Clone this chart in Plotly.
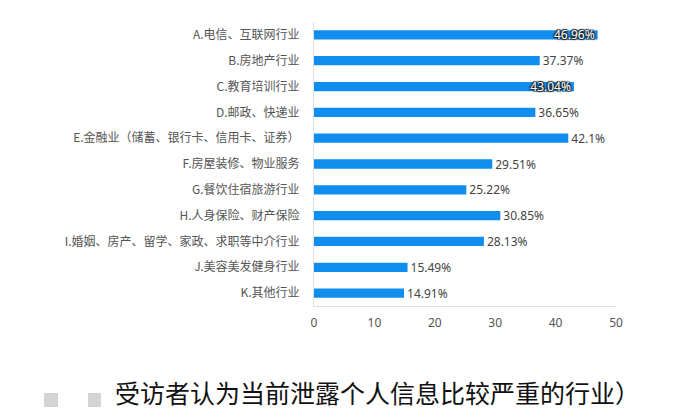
import plotly.graph_objects as go

categories = [
    "A.电信、互联网行业",
    "B.房地产行业",
    "C.教育培训行业",
    "D.邮政、快递业",
    "E.金融业（储蓄、银行卡、信用卡、证券）",
    "F.房屋装修、物业服务",
    "G.餐饮住宿旅游行业",
    "H.人身保险、财产保险",
    "I.婚姻、房产、留学、家政、求职等中介行业",
    "J.美容美发健身行业",
    "K.其他行业",
]
values = [46.96, 37.37, 43.04, 36.65, 42.1, 29.51, 25.22, 30.85, 28.13, 15.49, 14.91]
labels = ["46.96%", "37.37%", "43.04%", "36.65%", "42.1%", "29.51%", "25.22%", "30.85%", "28.13%", "15.49%", "14.91%"]
inside_flags = [True, False, True, False, False, False, False, False, False, False, False]
x_ticks = [0, 10, 20, 30, 40, 50]
caption = "受访者认为当前泄露个人信息比较严重的行业）"

W, H = 700, 420
L, R, T, B = 314, 84, 22, 114

fig = go.Figure()
fig.add_trace(go.Bar(
    y=categories,
    x=values,
    orientation="h",
    marker=dict(color="#108EF0", line=dict(width=0)),
    width=0.36,
    text=labels,
    textposition=["inside" if f else "outside" for f in inside_flags],
    insidetextanchor="end",
    insidetextfont=dict(family="Noto Sans, sans-serif", size=12, color="#ffffff",
                        shadow="1px 1px 1px #222, -1px -1px 1px #222, 1px -1px 1px #222, -1px 1px 1px #222"),
    outsidetextfont=dict(family="Noto Sans, sans-serif", size=12, color="#444444"),
    cliponaxis=False,
    hoverinfo="skip",
))

pw = W - L - R
ph = H - T - B

def px2x(px):
    return (px - L) / pw

def py2y(py):
    return 1 - (py - T) / ph

shapes = []
for x0, x1 in [(44, 58), (88, 101)]:
    shapes.append(dict(type="rect", xref="paper", yref="paper",
                       x0=px2x(x0), x1=px2x(x1), y0=py2y(407), y1=py2y(393),
                       fillcolor="#d4d4d4", line=dict(width=0), layer="above"))

fig.update_layout(
    width=W, height=H,
    margin=dict(l=L, r=R, t=T, b=B),
    paper_bgcolor="white",
    plot_bgcolor="white",
    showlegend=False,
    uniformtext=dict(minsize=12, mode="show"),
    shapes=shapes,
    xaxis=dict(
        range=[0, 50],
        tickvals=x_ticks,
        ticktext=[str(v) for v in x_ticks],
        showgrid=False,
        zeroline=False,
        showline=True,
        linecolor="#e0e0e0",
        linewidth=1,
        ticks="outside",
        ticklen=6,
        tickcolor="rgba(0,0,0,0)",
        tickfont=dict(family="Noto Sans, sans-serif", size=12, color="#555555"),
    ),
    yaxis=dict(
        categoryorder="array",
        categoryarray=categories[::-1],
        showgrid=False,
        zeroline=False,
        showline=True,
        linecolor="#e0e0e0",
        linewidth=1,
        ticks="outside",
        ticklen=11,
        tickcolor="rgba(0,0,0,0)",
        tickfont=dict(family="Noto Sans CJK SC, sans-serif", size=12, color="#555555"),
    ),
    annotations=[dict(
        text=caption,
        xref="paper", yref="paper",
        x=px2x(377), y=py2y(392),
        xanchor="center", yanchor="middle",
        showarrow=False,
        font=dict(family="Noto Sans CJK SC, serif", size=25, color="#111111"),
    )],
)

fig.write_html("out.html")
